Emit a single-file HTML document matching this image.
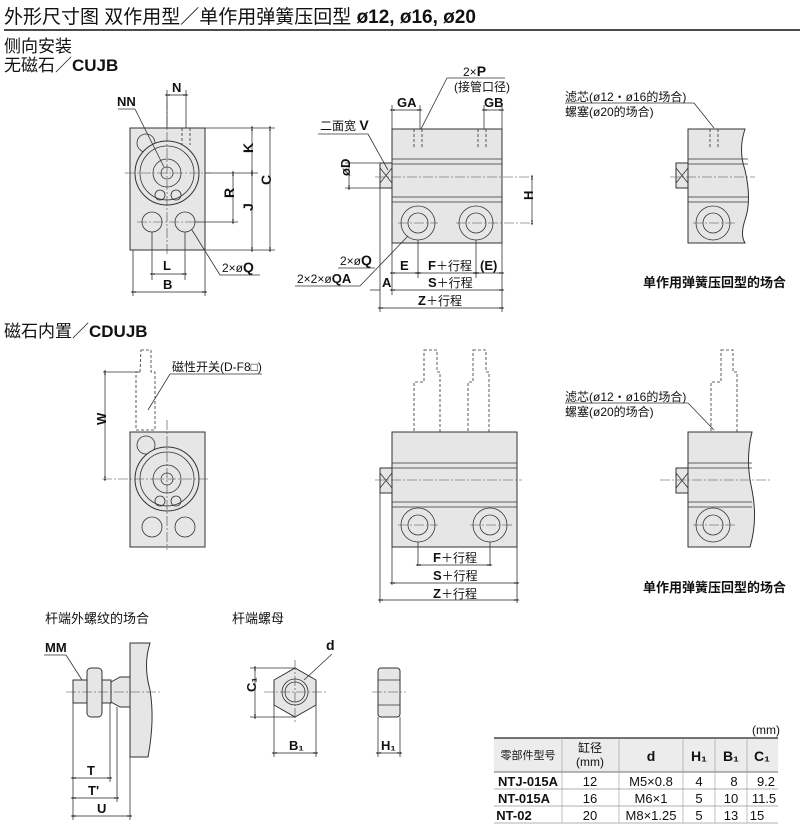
<!DOCTYPE html>
<html><head><meta charset="utf-8"><style>
body{margin:0;background:#fff}
svg{display:block}
text{font-family:"Liberation Sans","Noto Sans CJK SC",sans-serif;fill:#111}
.b{font-weight:bold}
.o{fill:#e6e6e6;stroke:#333;stroke-width:1}
.l{stroke:#333;stroke-width:0.8;fill:none}
.d{stroke:#333;stroke-width:0.8;fill:none;stroke-dasharray:3 2}
.c{stroke:#444;stroke-width:0.6;fill:none;stroke-dasharray:10 2 2 2}
.dm{stroke:#222;stroke-width:0.7;fill:none;marker-start:url(#a);marker-end:url(#a)}
</style></head><body>
<svg width="800" height="832" viewBox="0 0 800 832" xmlns="http://www.w3.org/2000/svg">
<defs><marker id="a" viewBox="0 0 10 10" refX="5" refY="5" markerWidth="7" markerHeight="7" orient="auto-start-reverse"><path d="M0,3 L5,5 L0,7 Z M5,3 L10,5 L5,7Z" fill="#222"/></marker></defs>

<text x="4" y="23" font-size="19">外形尺寸图  双作用型／单作用弹簧压回型  <tspan class="b">ø12, ø16, ø20</tspan></text>
<line x1="4" y1="30" x2="800" y2="30" stroke="#111" stroke-width="1.5"/>
<text x="4" y="52" font-size="17">侧向安装</text>
<text x="4" y="71" font-size="17">无磁石／<tspan class="b">CUJB</tspan></text>

<!-- front view top -->
<rect class="o" x="130" y="128" width="75" height="122"/>
<circle class="l" cx="146" cy="143" r="9" fill="#fff"/>
<circle class="o" cx="167" cy="173" r="32"/><circle class="l" cx="167" cy="173" r="27"/>
<circle class="l" cx="167" cy="173" r="14" stroke-width="2"/><circle class="l" cx="167" cy="173" r="6"/>
<circle class="l" cx="160" cy="195" r="5"/><circle class="l" cx="176" cy="195" r="5"/>
<circle class="l" cx="152" cy="222" r="10"/><circle class="l" cx="185" cy="222" r="10"/>
<line class="d" x1="182" y1="128" x2="182" y2="145"/><line class="d" x1="190" y1="128" x2="190" y2="145"/>
<line class="c" x1="125" y1="173" x2="210" y2="173"/><line class="c" x1="167" y1="100" x2="167" y2="255"/>
<line class="c" x1="137" y1="222" x2="200" y2="222"/>
<line class="l" x1="205" y1="128" x2="275" y2="128"/><line class="l" x1="205" y1="173" x2="258" y2="173"/><line class="l" x1="205" y1="250" x2="275" y2="250"/><line class="l" x1="195" y1="222" x2="238" y2="222"/>
<line class="dm" x1="252" y1="128" x2="252" y2="173"/><line class="dm" x1="270" y1="128" x2="270" y2="250"/>
<line class="dm" x1="233" y1="173" x2="233" y2="222"/><line class="dm" x1="252" y1="173" x2="252" y2="250"/>
<text class="b" x="248" y="158" font-size="14" transform="rotate(-90 248 153)">K</text>
<text class="b" x="266" y="190" font-size="14" transform="rotate(-90 266 185)">C</text>
<text class="b" x="229" y="203" font-size="14" transform="rotate(-90 229 198)">R</text>
<text class="b" x="248" y="216" font-size="14" transform="rotate(-90 248 211)">J</text>
<line class="l" x1="167" y1="90" x2="167" y2="128"/><line class="l" x1="186" y1="90" x2="186" y2="128"/>
<line class="dm" x1="167" y1="95" x2="186" y2="95"/><text class="b" x="172" y="92" font-size="13">N</text>
<text class="b" x="117" y="106" font-size="13">NN</text><line class="l" x1="118" y1="109" x2="135" y2="109"/><line class="l" x1="135" y1="109" x2="164" y2="167"/>
<line class="l" x1="152" y1="232" x2="152" y2="280"/><line class="l" x1="185" y1="232" x2="185" y2="280"/>
<line class="dm" x1="152" y1="274" x2="185" y2="274"/><text class="b" x="163" y="270" font-size="13">L</text>
<line class="l" x1="133" y1="250" x2="133" y2="296"/><line class="l" x1="205" y1="250" x2="205" y2="296"/>
<line class="dm" x1="133" y1="292" x2="205" y2="292"/><text class="b" x="163" y="289" font-size="13">B</text>
<line class="l" x1="192" y1="230" x2="220" y2="275"/><line class="l" x1="220" y1="275" x2="260" y2="275"/>
<text x="222" y="272" font-size="12">2×ø<tspan class="b" font-size="14">Q</tspan></text>

<!-- middle top -->
<rect class="o" x="392" y="129" width="110" height="114"/>
<line class="l" x1="392" y1="159" x2="502" y2="159"/><line class="l" x1="392" y1="164" x2="502" y2="164"/>
<line class="l" x1="392" y1="197" x2="502" y2="197"/><line class="l" x1="392" y1="202" x2="502" y2="202"/>
<rect class="o" x="380" y="163" width="12" height="25"/><path class="l" d="M380 168 L392 183 M392 168 L380 183"/>
<line class="c" x1="375" y1="177" x2="532" y2="177"/>
<circle class="l" cx="418" cy="223" r="17"/><circle class="l" cx="418" cy="223" r="10"/>
<circle class="l" cx="476" cy="223" r="17"/><circle class="l" cx="476" cy="223" r="10"/>
<line class="c" x1="398" y1="223" x2="438" y2="223"/><line class="c" x1="456" y1="223" x2="532" y2="223"/>
<line class="d" x1="414" y1="129" x2="414" y2="148"/><line class="d" x1="422" y1="129" x2="422" y2="148"/>
<line class="d" x1="478" y1="129" x2="478" y2="148"/><line class="d" x1="486" y1="129" x2="486" y2="148"/>
<line class="dm" x1="392" y1="110" x2="420" y2="110"/><text class="b" x="397" y="107" font-size="13">GA</text>
<line class="l" x1="392" y1="105" x2="392" y2="129"/><line class="l" x1="420" y1="105" x2="420" y2="129"/>
<line class="dm" x1="484" y1="110" x2="502" y2="110"/><text class="b" x="484" y="107" font-size="13">GB</text>
<line class="l" x1="484" y1="105" x2="484" y2="129"/><line class="l" x1="502" y1="105" x2="502" y2="129"/>
<text x="463" y="76" font-size="12">2×<tspan class="b" font-size="14">P</tspan></text><text x="454" y="91" font-size="12">(接管口径)</text>
<line class="l" x1="447" y1="78" x2="505" y2="78"/><line class="l" x1="447" y1="78" x2="421" y2="129"/>
<text x="320" y="130" font-size="12">二面宽 <tspan class="b" font-size="14">V</tspan></text><line class="l" x1="318" y1="134" x2="368" y2="134"/><line class="l" x1="368" y1="134" x2="388" y2="170"/>
<line class="l" x1="345" y1="163" x2="380" y2="163"/><line class="l" x1="345" y1="188" x2="380" y2="188"/>
<line class="dm" x1="349" y1="163" x2="349" y2="188"/><text class="b" x="345" y="181" font-size="13" transform="rotate(-90 345 176)">øD</text>
<line class="dm" x1="532" y1="177" x2="532" y2="223"/><text class="b" x="528" y="205" font-size="13" transform="rotate(-90 528 200)">H</text>
<line class="l" x1="380" y1="188" x2="380" y2="312"/><line class="l" x1="392" y1="243" x2="392" y2="295"/><line class="l" x1="418" y1="240" x2="418" y2="278"/><line class="l" x1="476" y1="240" x2="476" y2="278"/><line class="l" x1="502" y1="243" x2="502" y2="312"/>
<line class="dm" x1="392" y1="273" x2="418" y2="273"/><text class="b" x="400" y="270" font-size="13">E</text>
<line class="dm" x1="418" y1="273" x2="476" y2="273"/><text x="428" y="270" font-size="12"><tspan class="b" font-size="13">F</tspan>＋行程</text>
<line class="dm" x1="476" y1="273" x2="502" y2="273"/><text class="b" x="480" y="270" font-size="13">(E)</text>
<line class="dm" x1="392" y1="290" x2="502" y2="290"/><text x="428" y="287" font-size="12"><tspan class="b" font-size="13">S</tspan>＋行程</text>
<path class="l" d="M370 290 L380 290"/><text class="b" x="382" y="287" font-size="13">A</text>
<line class="dm" x1="380" y1="308" x2="502" y2="308"/><text x="418" y="305" font-size="12"><tspan class="b" font-size="13">Z</tspan>＋行程</text>
<text x="340" y="265" font-size="12">2×ø<tspan class="b" font-size="14">Q</tspan></text><text x="297" y="283" font-size="12">2×2×ø<tspan class="b" font-size="13">QA</tspan></text>
<line class="l" x1="338" y1="268" x2="375" y2="268"/><line class="l" x1="295" y1="286" x2="360" y2="286"/><line class="l" x1="360" y1="286" x2="408" y2="236"/>

<!-- right top -->
<path class="o" d="M688 129 L745 129 Q738 150 745 170 Q752 200 745 220 Q740 235 745 243 L688 243 Z"/>
<line class="l" x1="688" y1="159" x2="748" y2="159"/><line class="l" x1="688" y1="164" x2="748" y2="164"/>
<line class="l" x1="688" y1="197" x2="748" y2="197"/><line class="l" x1="688" y1="202" x2="748" y2="202"/>
<rect class="o" x="676" y="163" width="12" height="25"/><path class="l" d="M676 168 L688 183 M688 168 L676 183"/>
<line class="c" x1="670" y1="177" x2="755" y2="177"/>
<circle class="l" cx="713" cy="223" r="17"/><circle class="l" cx="713" cy="223" r="10"/><line class="c" x1="693" y1="223" x2="735" y2="223"/>
<line class="d" x1="710" y1="129" x2="710" y2="148"/><line class="d" x1="718" y1="129" x2="718" y2="148"/>
<text x="565" y="101" font-size="12">滤芯(ø12・ø16的场合)</text><text x="565" y="116" font-size="12">螺塞(ø20的场合)</text>
<line class="l" x1="565" y1="103" x2="694" y2="103"/><line class="l" x1="694" y1="103" x2="714" y2="128"/>
<text class="b" x="643" y="287" font-size="13">单作用弹簧压回型的场合</text>

<!-- row 2 -->
<text x="4" y="337" font-size="17">磁石内置／<tspan class="b">CDUJB</tspan></text>
<rect class="o" x="130" y="432" width="75" height="115"/>
<circle class="l" cx="146" cy="445" r="9" fill="#fff"/>
<circle class="o" cx="167" cy="479" r="32"/><circle class="l" cx="167" cy="479" r="27"/>
<circle class="l" cx="167" cy="479" r="14" stroke-width="2"/><circle class="l" cx="167" cy="479" r="6"/>
<circle class="l" cx="160" cy="501" r="5"/><circle class="l" cx="176" cy="501" r="5"/>
<circle class="l" cx="152" cy="527" r="10"/><circle class="l" cx="185" cy="527" r="10"/>
<line class="c" x1="102" y1="479" x2="210" y2="479"/><line class="c" x1="167" y1="420" x2="167" y2="550"/>
<path class="d" d="M141 350 L151 350 L151 372 L155 372 L155 430 L136 430 L136 372 L140 372 Z"/>
<line class="l" x1="103" y1="372" x2="140" y2="372"/><line class="dm" x1="105" y1="372" x2="105" y2="479"/>
<text class="b" x="101" y="430" font-size="13" transform="rotate(-90 101 425)">W</text>
<text x="172" y="371" font-size="12">磁性开关(D-F8□)</text><line class="l" x1="170" y1="374" x2="262" y2="374"/><line class="l" x1="170" y1="374" x2="148" y2="410"/>

<rect class="o" x="392" y="432" width="125" height="115"/>
<line class="l" x1="392" y1="463" x2="517" y2="463"/><line class="l" x1="392" y1="468" x2="517" y2="468"/>
<line class="l" x1="392" y1="502" x2="517" y2="502"/><line class="l" x1="392" y1="507" x2="517" y2="507"/>
<rect class="o" x="380" y="468" width="12" height="25"/><path class="l" d="M380 473 L392 488 M392 473 L380 488"/>
<line class="c" x1="375" y1="480" x2="522" y2="480"/>
<circle class="l" cx="418" cy="525" r="17"/><circle class="l" cx="418" cy="525" r="10"/>
<circle class="l" cx="490" cy="525" r="17"/><circle class="l" cx="490" cy="525" r="10"/>
<line class="c" x1="398" y1="525" x2="438" y2="525"/><line class="c" x1="470" y1="525" x2="512" y2="525"/>
<path class="d" d="M424 350 L437 350 L437 372 L440 372 L440 432 L414 432 L414 382 L424 382 Z"/>
<path class="d" d="M473 350 L486 350 L486 372 L489 372 L489 432 L468 432 L468 382 L473 382 Z"/>
<line class="l" x1="380" y1="493" x2="380" y2="603"/><line class="l" x1="392" y1="547" x2="392" y2="585"/><line class="l" x1="418" y1="542" x2="418" y2="566"/><line class="l" x1="490" y1="542" x2="490" y2="566"/><line class="l" x1="517" y1="547" x2="517" y2="603"/>
<line class="dm" x1="418" y1="565" x2="490" y2="565"/><text x="433" y="562" font-size="12"><tspan class="b" font-size="13">F</tspan>＋行程</text>
<line class="dm" x1="392" y1="583" x2="517" y2="583"/><text x="433" y="580" font-size="12"><tspan class="b" font-size="13">S</tspan>＋行程</text>
<line class="dm" x1="380" y1="600" x2="517" y2="600"/><text x="433" y="598" font-size="12"><tspan class="b" font-size="13">Z</tspan>＋行程</text>

<path class="o" d="M688 432 L752 432 Q745 460 752 490 Q758 520 750 547 L688 547 Z"/>
<line class="l" x1="688" y1="463" x2="752" y2="463"/><line class="l" x1="688" y1="468" x2="752" y2="468"/>
<line class="l" x1="688" y1="502" x2="752" y2="502"/><line class="l" x1="688" y1="507" x2="752" y2="507"/>
<rect class="o" x="676" y="468" width="12" height="25"/><path class="l" d="M676 473 L688 488 M688 473 L676 488"/>
<line class="c" x1="660" y1="480" x2="770" y2="480"/>
<circle class="l" cx="713" cy="525" r="17"/><circle class="l" cx="713" cy="525" r="10"/><line class="c" x1="693" y1="525" x2="735" y2="525"/>
<path class="d" d="M721 350 L733 350 L733 372 L737 372 L737 432 L711 432 L711 382 L721 382 Z"/>
<text x="565" y="401" font-size="12">滤芯(ø12・ø16的场合)</text><text x="565" y="416" font-size="12">螺塞(ø20的场合)</text>
<line class="l" x1="565" y1="403" x2="688" y2="403"/><line class="l" x1="688" y1="403" x2="714" y2="430"/>
<text class="b" x="643" y="592" font-size="13">单作用弹簧压回型的场合</text>

<!-- bottom -->
<text x="45" y="623" font-size="13">杆端外螺纹的场合</text>
<text x="232" y="623" font-size="13">杆端螺母</text>
<text class="b" x="45" y="652" font-size="13">MM</text><line class="l" x1="44" y1="655" x2="66" y2="655"/><line class="l" x1="66" y1="655" x2="82" y2="680"/>
<rect class="o" x="73" y="680" width="38" height="23"/>
<rect class="o" x="87" y="668" width="15" height="49" rx="4"/>
<path class="o" d="M111 682 L120 677 L130 677 L130 707 L120 707 L111 702 Z"/>
<path class="o" d="M130 643 L150 643 Q143 665 150 690 Q155 720 148 757 L130 757 Z"/>
<line class="c" x1="66" y1="692" x2="160" y2="692"/>
<line class="l" x1="73" y1="703" x2="73" y2="820"/><line class="l" x1="110" y1="703" x2="110" y2="782"/><line class="l" x1="117" y1="707" x2="117" y2="802"/><line class="l" x1="130" y1="757" x2="130" y2="820"/>
<line class="dm" x1="73" y1="778" x2="110" y2="778"/><text class="b" x="87" y="775" font-size="13">T</text>
<line class="dm" x1="73" y1="798" x2="117" y2="798"/><text class="b" x="88" y="795" font-size="13">T'</text>
<line class="dm" x1="73" y1="816" x2="130" y2="816"/><text class="b" x="97" y="813" font-size="13">U</text>

<polygon class="o" points="274,680 295,668 316,680 316,705 295,717 274,705"/>
<circle class="l" cx="295" cy="692" r="13"/><circle class="l" cx="295" cy="692" r="10"/>
<line class="c" x1="264" y1="692" x2="327" y2="692"/><line class="c" x1="295" y1="660" x2="295" y2="724"/>
<text class="b" x="326" y="650" font-size="14">d</text><line class="l" x1="332" y1="654" x2="304" y2="680"/>
<line class="l" x1="250" y1="668" x2="295" y2="668"/><line class="l" x1="250" y1="717" x2="295" y2="717"/>
<line class="dm" x1="255" y1="668" x2="255" y2="717"/><text class="b" x="251" y="697" font-size="13" transform="rotate(-90 251 692)">C₁</text>
<line class="l" x1="274" y1="705" x2="274" y2="757"/><line class="l" x1="316" y1="705" x2="316" y2="757"/>
<line class="dm" x1="274" y1="753" x2="316" y2="753"/><text class="b" x="289" y="750" font-size="13">B₁</text>
<rect class="o" x="378" y="668" width="22" height="49" rx="3"/><line class="l" x1="378" y1="680" x2="400" y2="680"/><line class="l" x1="378" y1="705" x2="400" y2="705"/>
<line class="c" x1="372" y1="692" x2="406" y2="692"/>
<line class="l" x1="378" y1="717" x2="378" y2="757"/><line class="l" x1="400" y1="717" x2="400" y2="757"/>
<line class="dm" x1="378" y1="753" x2="400" y2="753"/><text class="b" x="381" y="750" font-size="13">H₁</text>

<!-- table -->
<text x="752" y="734" font-size="12">(mm)</text>
<rect x="494" y="738" width="284" height="34" fill="#ececec"/>
<line x1="494" y1="738" x2="778" y2="738" stroke="#222" stroke-width="1.3"/>
<line x1="494" y1="772" x2="778" y2="772" stroke="#444" stroke-width="0.8"/>
<line x1="494" y1="789" x2="778" y2="789" stroke="#666" stroke-width="0.6"/>
<line x1="494" y1="806" x2="778" y2="806" stroke="#666" stroke-width="0.6"/>
<line x1="494" y1="823" x2="778" y2="823" stroke="#666" stroke-width="0.6"/>
<g stroke="#999" stroke-width="0.6"><line x1="562" y1="738" x2="562" y2="823"/><line x1="619" y1="738" x2="619" y2="823"/><line x1="683" y1="738" x2="683" y2="823"/><line x1="715" y1="738" x2="715" y2="823"/><line x1="747" y1="738" x2="747" y2="823"/></g>
<g font-size="13" text-anchor="middle">
<text x="528" y="759" font-size="11">零部件型号</text>
<text x="590" y="752" font-size="12">缸径</text><text x="590" y="766" font-size="12">(mm)</text>
<text class="b" x="651" y="761" font-size="14">d</text><text class="b" x="699" y="761" font-size="14">H₁</text><text class="b" x="731" y="761" font-size="14">B₁</text><text class="b" x="762" y="761" font-size="14">C₁</text>
<text class="b" x="528" y="786" font-size="13">NTJ-015A</text><text x="590" y="786">12</text><text x="651" y="786">M5×0.8</text><text x="699" y="786">4</text><text x="734" y="786">8</text><text x="766" y="786">9.2</text>
<text class="b" x="524" y="803" font-size="13">NT-015A</text><text x="590" y="803">16</text><text x="651" y="803">M6×1</text><text x="699" y="803">5</text><text x="731" y="803">10</text><text x="764" y="803">11.5</text>
<text class="b" x="514" y="820" font-size="13">NT-02</text><text x="590" y="820">20</text><text x="651" y="820">M8×1.25</text><text x="699" y="820">5</text><text x="731" y="820">13</text><text x="757" y="820">15</text>
</g>
</svg>
</body></html>
